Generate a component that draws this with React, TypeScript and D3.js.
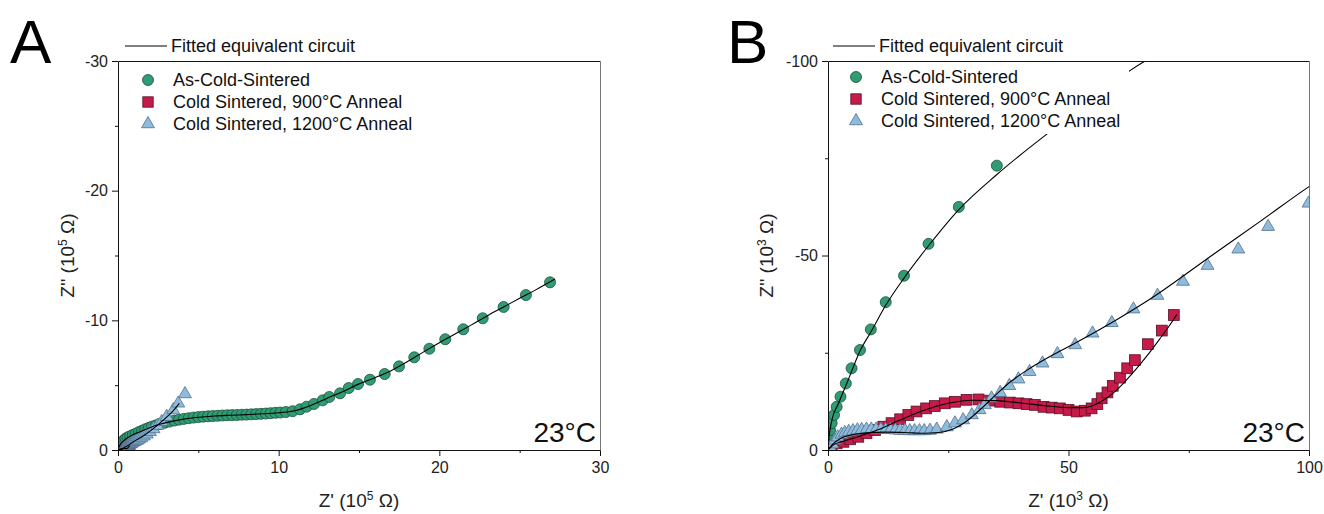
import React, { useEffect, useRef } from 'react'
import * as d3 from 'd3'

type Pt = [number, number]

// Z' and -Z'' in 10^3 Ω (panel A shows the same data in 10^5 Ω)
const asColdSintered: Pt[] = [
  [0.07, 1.7], [0.21, 3.4], [0.42, 5.1], [0.76, 6.9], [1.25, 9.0], [1.8, 11.1], [2.6, 13.7], [3.7, 17.1],
  [4.9, 21.0], [6.65, 25.7], [8.9, 31.0], [12.0, 38.0], [15.8, 44.8], [20.9, 53.0], [27.2, 62.5], [35.1, 73.1],
  [47, 88], [60, 97], [75, 106], [92, 116], [110, 126], [130, 138], [150, 149], [170, 160], [190, 170],
  [210, 180], [235, 190], [260, 200], [290, 210], [320, 219], [350, 227], [380, 234], [410, 240], [440, 245],
  [470, 250], [500, 254], [530, 257], [560, 260], [590, 262], [620, 264], [650, 266], [680, 268], [710, 269],
  [740, 270], [770, 272], [800, 273], [830, 275], [860, 277], [890, 279], [920, 281], [950, 284], [980, 287],
  [1010, 289], [1045, 293], [1087, 299], [1133, 314], [1174, 334], [1220, 355], [1274, 383], [1315, 409],
  [1382, 437], [1436, 478], [1494, 509], [1568, 542], [1660, 586], [1749, 645], [1844, 715], [1938, 781],
  [2037, 854], [2149, 931], [2270, 1016], [2400, 1103], [2539, 1195], [2689, 1293],
]

const anneal900: Pt[] = [
  [0.1, 0.3], [0.27, 0.86], [0.77, 1.3], [1.8, 1.7], [3.2, 2.1], [4.6, 2.75], [6.3, 3.4], [8.0, 4.3],
  [9.8, 5.1], [11.5, 6.0], [13.2, 6.9], [15.0, 7.9], [16.7, 9.0], [18.4, 9.9], [20.4, 10.7], [22.2, 11.3],
  [24.3, 12.0], [26.4, 12.4], [28.8, 12.9], [31.3, 13.0], [33.7, 12.7], [35.8, 12.4], [37.8, 12.2], [39.6, 12.0],
  [41.3, 11.8], [43.0, 11.6], [44.8, 11.1], [46.5, 10.9], [48.2, 10.7], [50.0, 10.3], [51.7, 9.9], [53.4, 10.1],
  [54.8, 10.7], [56.0, 11.8], [56.9, 13.3], [58.1, 14.8], [59.2, 16.5], [60.7, 18.6], [62.2, 21.0], [63.8, 23.1],
  [66.5, 27.2], [69.4, 30.7], [71.9, 34.7],
]

const anneal1200: Pt[] = [
  [0.5, 0.6], [0.9, 1.5], [1.4, 2.5], [2.0, 3.3], [2.8, 4.0], [3.5, 4.4], [4.3, 4.7], [5.2, 4.9], [6.1, 5.1],
  [7.0, 5.2], [8.0, 5.3], [9.0, 5.3], [10.0, 5.3], [11.0, 5.3], [12.0, 5.2], [13.0, 5.2], [14.0, 5.1],
  [15.0, 5.0], [16.0, 5.0], [17.0, 4.9], [18.0, 4.9], [19.0, 4.9], [20.0, 4.9], [21.2, 5.0], [22.6, 5.3],
  [24.7, 5.9], [26.4, 6.9], [28.1, 7.7], [29.9, 9.0], [31.5, 10.3], [32.6, 11.6], [34.0, 13.3], [35.8, 14.7],
  [37.7, 16.5], [39.6, 18.2], [41.9, 20.1], [44.6, 22.3], [47.7, 24.7], [51.4, 27.0], [55.0, 30.0], [59.0, 32.7],
  [63.5, 36.2], [68.5, 39.7], [73.8, 43.3], [78.9, 47.4], [85.3, 51.6], [91.5, 57.4], [99.9, 63.4],
  [109, 68], [119, 74], [131, 82], [145, 93], [161, 106], [179, 121], [199, 140], [221, 162], [245, 188],
  [272, 218], [303, 257], [344, 308], [375, 360], [417, 432],
]

// equivalent circuit fits
const asColdFit: Pt[] = [
  [0, 0], [0.1, 2], [0.4, 5], [1, 8.6], [2, 11.5], [3.7, 16.5], [5, 20.5], [6.6, 25.3], [9, 30.5], [12, 37.2],
  [15.8, 44.2], [20.9, 52.5], [27.2, 61.8], [35, 70.7], [45.5, 81.2], [54, 89], [62.4, 97.2], [80, 109],
  [100, 121], [130, 137], [170, 158], [210, 178], [260, 198], [320, 217], [400, 236], [500, 252], [600, 262],
  [700, 268], [800, 273], [900, 279], [1000, 287], [1050, 293], [1100, 303], [1150, 321], [1200, 344],
  [1300, 398], [1400, 452], [1500, 510], [1600, 558], [1700, 612], [1800, 680], [1900, 755], [2000, 827],
  [2100, 896], [2200, 965], [2300, 1036], [2400, 1103], [2500, 1170], [2600, 1235], [2720, 1318],
]

const anneal900Fit: Pt[] = [
  [0, 0], [1, 1.2], [3, 2.2], [6, 3.3], [10, 5.0], [15, 7.7], [20, 10.2], [25, 12.0], [30, 12.8], [35, 12.7],
  [40, 12.1], [45, 11.4], [50, 10.9], [53, 10.9], [55, 11.4], [57, 12.6], [59, 14.3], [61, 16.6], [63, 19.3],
  [65, 22.2], [67, 25.3], [69, 28.6], [71, 32.0], [72.5, 34.8],
]

const anneal1200Fit: Pt[] = [
  [0, 0], [1, 1.5], [2.5, 2.9], [5, 3.9], [8, 4.4], [12, 4.6], [16, 4.5], [20, 4.3], [23, 4.5], [26, 5.4],
  [29, 7.6], [32, 10.8], [35, 14.3], [38, 17.6], [42, 21], [47, 24.6], [52, 27.9], [60, 33.5], [67.7, 39.4],
  [80, 50.2], [90, 58.9], [100, 67.7], [130, 88], [170, 120], [220, 165], [280, 228], [340, 298], [382, 360],
]

const seriesNames = ['As-Cold-Sintered', 'Cold Sintered, 900°C Anneal', 'Cold Sintered, 1200°C Anneal']
const fitName = 'Fitted equivalent circuit'
const tempLabel = '23°C'

const ticksA = [0, 10, 20, 30]
const minorA = [5, 15, 25]
const ticksB = [0, 50, 100]
const minorB = [25, 75]

const FONT = '"Liberation Sans", Arial, sans-serif'
const GREEN = '#2f9c74'
const GREEN_EDGE = '#1b4f3b'
const RED = '#c41b4a'
const RED_EDGE = '#5c1024'
const BLUE = '#8fbcdc'
const BLUE_EDGE = '#52708e'

const panels = [
  { id: 'A', left: 118, right: 600, top: 61, bottom: 450, max: 30, div: 100, exp: '5',
    ticks: ticksA, minor: minorA, yTitleX: 74, letterX: 10, legendX: 125, legendY: 80 },
  { id: 'B', left: 828, right: 1309, top: 61, bottom: 450, max: 100, div: 1, exp: '3',
    ticks: ticksB, minor: minorB, yTitleX: 773, letterX: 727, legendX: 833, legendY: 77 },
]

type Panel = typeof panels[number]

function drawPanel(svg: any, p: Panel) {
  const x = d3.scaleLinear().domain([0, p.max]).range([p.left, p.right])
  const y = d3.scaleLinear().domain([0, p.max]).range([p.bottom, p.top])
  const sx = (d: Pt) => x(d[0] / p.div)
  const sy = (d: Pt) => y(d[1] / p.div)

  const g = svg.append('g').attr('font-family', FONT)
  const clipId = 'clip' + p.id
  g.append('clipPath').attr('id', clipId).append('rect')
    .attr('x', p.left).attr('y', p.top)
    .attr('width', p.right - p.left).attr('height', p.bottom - p.top)

  // axes
  const fmtY = (v: any) => (v === 0 ? '0' : '-' + v)
  const styleAxis = (a: any) => {
    a.select('.domain').remove()
    a.attr('font-family', FONT).attr('font-size', 16).attr('color', '#111')
    a.selectAll('text').attr('fill', '#222')
  }
  g.append('g').attr('transform', `translate(${p.left},0)`)
    .call(d3.axisLeft(y).tickValues(p.ticks).tickSize(6).tickPadding(4).tickFormat(fmtY))
    .call(styleAxis)
  g.append('g').attr('transform', `translate(${p.left},0)`)
    .call(d3.axisLeft(y).tickValues(p.minor).tickSize(3).tickFormat(() => ''))
    .call(styleAxis)
  g.append('g').attr('transform', `translate(0,${p.bottom})`)
    .call(d3.axisBottom(x).tickValues(p.ticks).tickSize(6).tickPadding(6).tickFormat((v: any) => String(v)))
    .call(styleAxis)
  g.append('g').attr('transform', `translate(0,${p.bottom})`)
    .call(d3.axisBottom(x).tickValues(p.minor).tickSize(3).tickFormat(() => ''))
    .call(styleAxis)

  // markers
  const data = g.append('g').attr('clip-path', `url(#${clipId})`)
  data.selectAll('circle.cs').data(asColdSintered).join('circle').attr('class', 'cs')
    .attr('cx', sx).attr('cy', sy).attr('r', 5.5)
    .attr('fill', GREEN).attr('stroke', GREEN_EDGE).attr('stroke-width', 0.8)
  data.selectAll('rect.a9').data(anneal900).join('rect').attr('class', 'a9')
    .attr('x', (d: Pt) => sx(d) - 5.4).attr('y', (d: Pt) => sy(d) - 5.4)
    .attr('width', 10.8).attr('height', 10.8)
    .attr('fill', RED).attr('stroke', RED_EDGE).attr('stroke-width', 0.8)
  const tri = d3.symbol().type(d3.symbolTriangle).size(72)
  data.selectAll('path.a12').data(anneal1200).join('path').attr('class', 'a12')
    .attr('transform', (d: Pt) => `translate(${sx(d)},${sy(d)})`).attr('d', tri)
    .attr('fill', BLUE).attr('stroke', BLUE_EDGE).attr('stroke-width', 0.8)

  // fitted lines
  const line = d3.line<Pt>().x(sx).y(sy).curve(d3.curveMonotoneX)
  ;[asColdFit, anneal900Fit, anneal1200Fit].forEach(f => {
    data.append('path').attr('d', line(f)).attr('fill', 'none').attr('stroke', '#000').attr('stroke-width', 1.1)
  })

  // legend
  const lg = g.append('g').attr('font-size', 18).attr('fill', '#111')
  lg.append('rect').attr('x', p.legendX + 8).attr('y', p.legendY - 13)
    .attr('width', 288).attr('height', 70).attr('fill', '#fff')
  const fy = p.top - 15
  lg.append('line').attr('x1', p.legendX).attr('x2', p.legendX + 42)
    .attr('y1', fy).attr('y2', fy).attr('stroke', '#000').attr('stroke-width', 1.1)
  lg.append('text').attr('x', p.legendX + 46).attr('y', fy).attr('dy', '0.35em').text(fitName)
  const mx = p.legendX + 23
  seriesNames.forEach((name, i) => {
    const ry = p.legendY + i * 22
    if (i === 0) lg.append('circle').attr('cx', mx).attr('cy', ry).attr('r', 5.5)
      .attr('fill', GREEN).attr('stroke', GREEN_EDGE).attr('stroke-width', 0.8)
    if (i === 1) lg.append('rect').attr('x', mx - 5.2).attr('y', ry - 5.2).attr('width', 10.4).attr('height', 10.4)
      .attr('fill', RED).attr('stroke', RED_EDGE).attr('stroke-width', 0.8)
    if (i === 2) lg.append('path').attr('transform', `translate(${mx},${ry})`).attr('d', tri)
      .attr('fill', BLUE).attr('stroke', BLUE_EDGE).attr('stroke-width', 0.8)
    lg.append('text').attr('x', p.legendX + 48).attr('y', ry).attr('dy', '0.35em').text(name)
  })

  // frame: dark on left/bottom/top, greyer on the right
  const fr = g.append('g').attr('fill', 'none').attr('stroke-width', 1)
  const L = p.left + 0.5, R = p.right + 0.5, T = p.top + 0.5, B = p.bottom + 0.5
  fr.append('path').attr('d', `M${R},${T}H${L}V${B}H${R}`).attr('stroke', '#111')
  fr.append('path').attr('d', `M${R},${T}V${B}`).attr('stroke', '#777')

  g.append('text').attr('x', p.right - 4).attr('y', p.bottom - 8).attr('text-anchor', 'end')
    .attr('font-size', 28).attr('fill', '#111').text(tempLabel)

  // axis titles
  const xt = g.append('text').attr('x', (p.left + p.right) / 2).attr('y', 507)
    .attr('text-anchor', 'middle').attr('font-size', 19).attr('fill', '#222')
  xt.append('tspan').text("Z' (10")
  xt.append('tspan').attr('dy', -7).attr('font-size', 12).text(p.exp)
  xt.append('tspan').attr('dy', 7).text(' Ω)')

  const cy = (p.top + p.bottom) / 2
  const yt = g.append('text').attr('transform', `translate(${p.yTitleX},${cy}) rotate(-90)`)
    .attr('text-anchor', 'middle').attr('font-size', 19).attr('fill', '#222')
  yt.append('tspan').text("Z'' (10")
  yt.append('tspan').attr('dy', -7).attr('font-size', 12).text(p.exp)
  yt.append('tspan').attr('dy', 7).text(' Ω)')

  g.append('text').attr('x', p.letterX).attr('y', 63).attr('font-size', 62).attr('fill', '#000').text(p.id)
}

export default function App() {
  const ref = useRef<SVGSVGElement>(null)

  useEffect(() => {
    const svg = d3.select(ref.current)
    svg.selectAll('*').remove()
    panels.forEach(p => drawPanel(svg, p))
  }, [])

  return (
    <div>
      <style>{'body{margin:0;background:#fff}'}</style>
      <svg ref={ref} width={1324} height={514} style={{ display: 'block' }} />
    </div>
  )
}
